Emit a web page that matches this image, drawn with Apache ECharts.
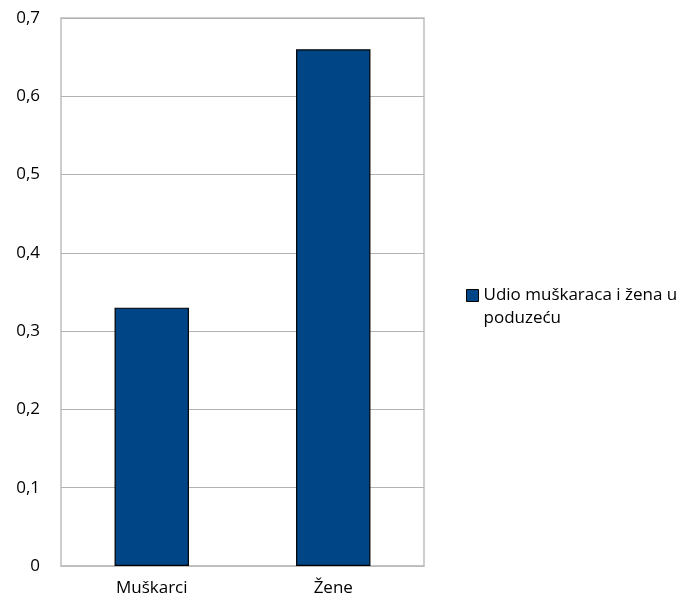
<!DOCTYPE html>
<html>
<head>
<meta charset="utf-8">
<script src="https://cdn.jsdelivr.net/npm/echarts@6/dist/echarts.min.js"></script>
<style>html,body{margin:0;padding:0;background:#fff}#c{width:697px;height:605px}</style>
</head>
<body>
<div id="c"></div>
<script>
var categories = ['Muškarci', 'Žene'];
var seriesName = 'Udio muškaraca i žena u poduzeću';
var values = [0.33, 0.66];
var yTicks = [0, 0.1, 0.2, 0.3, 0.4, 0.5, 0.6, 0.7];

var chart = echarts.init(document.getElementById('c'));
var font = '"Open Sans", "Liberation Sans", sans-serif';
chart.setOption({
  animation: false,
  backgroundColor: '#ffffff',
  grid: { left: 61, right: 273, top: 18, bottom: 39, show: true, borderColor: '#bfbfbf', borderWidth: 1.5 },
  legend: {
    show: true,
    left: 466, top: 261,
    padding: 0,
    orient: 'vertical',
    icon: 'rect',
    itemWidth: 12, itemHeight: 12,
    data: [{ name: seriesName, itemStyle: { color: '#004586', borderColor: '#000', borderWidth: 1 } }],
    formatter: function () { return '\nUdio muškaraca i žena u\npoduzeću'; },
    textStyle: { fontFamily: font, fontSize: 17, color: '#000', lineHeight: 23 }
  },
  xAxis: {
    type: 'category',
    data: categories,
    axisLine: { show: true, lineStyle: { color: '#bfbfbf', width: 1.5 } },
    axisTick: { show: false },
    axisLabel: { fontFamily: font, fontSize: 17, color: '#000', margin: 14 }
  },
  yAxis: {
    type: 'value',
    min: 0, max: 0.7, interval: 0.1,
    axisLine: { show: false },
    axisTick: { show: false },
    splitLine: { show: true, lineStyle: { color: '#b3b3b3', width: 1 } },
    axisLabel: {
      fontFamily: font, fontSize: 17, color: '#000', margin: 21,
      formatter: function (v) {
        var r = Math.round(v * 10) / 10;
        return yTicks.indexOf(r) >= 0 ? (r === 0 ? '0' : r.toFixed(1).replace('.', ',')) : '';
      }
    }
  },
  series: [{
    name: seriesName,
    type: 'bar',
    data: values,
    barWidth: '41%',
    itemStyle: { color: '#004586', borderColor: '#000', borderWidth: 1.2 }
  }]
});
</script>
</body>
</html>
